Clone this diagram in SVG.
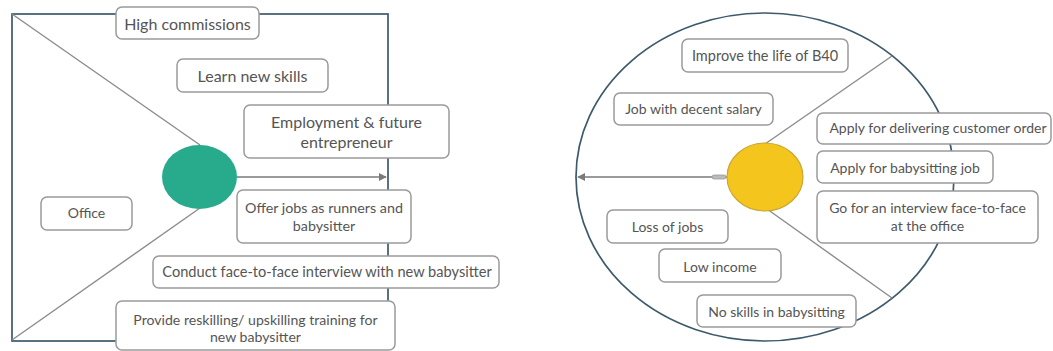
<svg xmlns="http://www.w3.org/2000/svg" width="1053" height="351" viewBox="0 0 1053 351">
<style>
.box{fill:#fff;stroke:#9a9a9a;stroke-width:1.5}
.t{font-family:Lato,"Liberation Sans",sans-serif;fill:#555;text-anchor:middle}
.r{font-size:14px}
.frame{fill:none;stroke:#3d5a6b;stroke-width:1.7}
.diag{stroke:#8c8c8c;stroke-width:1.4;fill:none}
.arr{stroke:#7a7a7a;stroke-width:1.6;fill:none}
</style>
<defs>
<marker id="ah" viewBox="0 0 10 10" refX="9" refY="5" markerWidth="5" markerHeight="5" orient="auto-start-reverse" markerUnits="strokeWidth">
<path d="M0,0 L10,5 L0,10 z" fill="#7a7a7a"/>
</marker>
</defs>
<rect width="1053" height="351" fill="#fff"/>
<g id="left-frame">
<rect class="frame" x="12" y="14" width="376" height="327"/>
</g>
<g id="right-frame">
<ellipse class="frame" cx="765" cy="177" rx="189" ry="164"/>
</g>
<g id="connectors">
<line class="diag" x1="12" y1="14" x2="200" y2="145"/>
<line class="diag" x1="12" y1="340" x2="200" y2="208"/>
<line class="arr" x1="237" y1="177" x2="386" y2="177" marker-end="url(#ah)"/>
<line class="diag" x1="765" y1="144" x2="892" y2="56"/>
<line class="diag" x1="767" y1="209" x2="892" y2="298"/>
<line class="arr" x1="727" y1="177" x2="578" y2="177" marker-end="url(#ah)"/>
<rect x="712" y="175" width="14" height="4" rx="2" fill="#bbb" stroke="#999" stroke-width="0.8"/>
</g>
<g id="teal-circle"><ellipse cx="199.5" cy="177" rx="37.5" ry="32" fill="#27ab8c"/></g>
<g id="yellow-circle"><ellipse cx="765" cy="177" rx="38" ry="34" fill="#f4c51d" stroke="#c9a634" stroke-width="1.2"/></g>

<g id="high-commissions"><rect class="box" x="116" y="7" width="143" height="32" rx="6"/><text class="t" x="187.5" y="30" font-size="16">High commissions</text></g>
<g id="learn-new-skills"><rect class="box" x="177" y="59" width="151" height="33" rx="6"/><text class="t" x="252.5" y="82" font-size="16">Learn new skills</text></g>
<g id="employment"><rect class="box" x="244" y="105" width="205" height="53" rx="6"/><text class="t" x="346.5" y="128" font-size="16">Employment &amp; future</text><text class="t" x="346.5" y="148" font-size="16">entrepreneur</text></g>
<g id="offer-jobs"><rect class="box" x="237" y="190" width="174" height="53" rx="6"/><text class="t" x="324" y="213" font-size="14.3">Offer jobs as runners and</text><text class="t" x="324" y="231" font-size="14.3">babysitter</text></g>
<g id="office"><rect class="box" x="41" y="197" width="91" height="33" rx="6"/><text class="t" x="86.5" y="218" font-size="14">Office</text></g>
<g id="conduct"><rect class="box" x="153" y="256" width="346" height="32" rx="6"/><text class="t" x="327" y="277" font-size="14.6">Conduct face-to-face interview with new babysitter</text></g>
<g id="provide"><rect class="box" x="116" y="301" width="279" height="49" rx="6"/><text class="t" x="255.5" y="325" font-size="14.1">Provide reskilling/ upskilling training for</text><text class="t" x="255.5" y="342" font-size="14.1">new babysitter</text></g>

<g id="improve"><rect class="box" x="682" y="39" width="166" height="33" rx="6"/><text class="t" x="765" y="61" font-size="14.5">Improve the life of B40</text></g>
<g id="job-salary"><rect class="box" x="614" y="93" width="159" height="32" rx="6"/><text class="t r" x="693.5" y="114">Job with decent salary</text></g>
<g id="apply-delivering"><rect class="box" x="817" y="113" width="234" height="31" rx="6"/><text class="t r" x="938" y="133">Apply for delivering customer order</text></g>
<g id="apply-babysitting"><rect class="box" x="817" y="151" width="176" height="32" rx="6"/><text class="t r" x="905" y="173">Apply for babysitting job</text></g>
<g id="go-interview"><rect class="box" x="817" y="191" width="221" height="52" rx="6"/><text class="t r" x="927.5" y="213">Go for an interview face-to-face</text><text class="t r" x="927.5" y="231">at the office</text></g>
<g id="loss-jobs"><rect class="box" x="607" y="210" width="121" height="33" rx="6"/><text class="t r" x="667.5" y="232">Loss of jobs</text></g>
<g id="low-income"><rect class="box" x="659" y="249" width="122" height="33" rx="6"/><text class="t r" x="720" y="272">Low income</text></g>
<g id="no-skills"><rect class="box" x="697" y="295" width="159" height="32" rx="6"/><text class="t r" x="776.5" y="317">No skills in babysitting</text></g>
</svg>
